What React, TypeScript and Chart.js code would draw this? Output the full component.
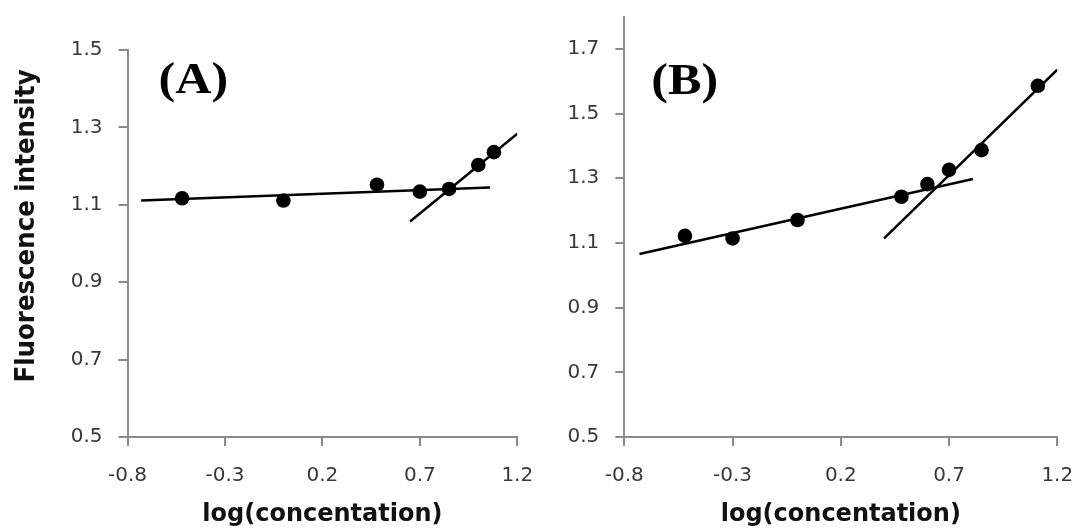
import React, { useEffect, useRef } from "react";
import { Chart, registerables } from "chart.js";

Chart.register(...registerables);

// ---- data ----
const xTicks = [-0.8, -0.3, 0.2, 0.7, 1.2];
const yTicksA = [0.5, 0.7, 0.9, 1.1, 1.3, 1.5];
const yTicksB = [0.5, 0.7, 0.9, 1.1, 1.3, 1.5, 1.7];

const logConcA = [-0.52, 0.0, 0.48, 0.7, 0.85, 1.0, 1.08];
const intensityA = [1.117, 1.111, 1.152, 1.134, 1.141, 1.203, 1.236];
const fitA1X = [-0.73, 1.06];
const fitA1Y = [1.111, 1.145];
const fitA2X = [0.65, 1.2];
const fitA2Y = [1.057, 1.284];

const logConcB = [-0.52, -0.3, 0.0, 0.48, 0.6, 0.7, 0.85, 1.11];
const intensityB = [1.122, 1.114, 1.171, 1.243, 1.282, 1.326, 1.387, 1.586];
const fitB1X = [-0.73, 0.81];
const fitB1Y = [1.066, 1.298];
const fitB2X = [0.4, 1.2];
const fitB2Y = [1.114, 1.636];

const xTitle = "log(concentation)";
const yTitle = "Fluorescence intensity";

const AXIS_GRAY = "#8a8a8a";
const TICK_TEXT = "#383838";

const pairs = (xs: number[], ys: number[]) => xs.map((x, i) => ({ x, y: ys[i] }));

const panelLabelPlugin = {
  id: "panelLabel",
  afterDraw(chart: any, _args: any, opts: any) {
    const { ctx, chartArea } = chart;
    ctx.save();
    ctx.font = 'bold 44px "Liberation Serif", serif';
    ctx.fillStyle = "#000";
    ctx.textBaseline = "alphabetic";
    ctx.textAlign = "left";
    ctx.translate(chartArea.left + opts.dx, chartArea.top + opts.dy);
    ctx.scale(1.14, 1);
    ctx.fillText(opts.text, 0, 0);
    ctx.restore();
    if (opts.yTitle) {
      ctx.save();
      ctx.font = 'bold 24.5px "DejaVu Sans", sans-serif';
      ctx.fillStyle = "#111";
      ctx.textAlign = "center";
      ctx.textBaseline = "middle";
      ctx.translate(opts.yTitleX, chartArea.top + opts.yTitleDy);
      ctx.rotate(-Math.PI / 2);
      ctx.scale(1, 1.12);
      ctx.fillText(opts.yTitle, 0, 0);
      ctx.restore();
    }
  },
};

type PanelProps = {
  left: number;
  width: number;
  xs: number[];
  ys: number[];
  fit1x: number[];
  fit1y: number[];
  fit2x: number[];
  fit2y: number[];
  yTicks: number[];
  yMax: number;
  yAxisWidth: number;
  padTop: number;
  padRight: number;
  yTitleText: string;
  label: string;
  labelDx: number;
  labelDy: number;
};

function Panel(p: PanelProps) {
  const ref = useRef<HTMLCanvasElement>(null);
  useEffect(() => {
    if (!ref.current) return;
    const lineDs = (xs: number[], ys: number[]) => ({
      data: pairs(xs, ys),
      showLine: true,
      pointRadius: 0,
      borderColor: "#000",
      borderWidth: 2.5,
      backgroundColor: "#000",
    });
    const chart = new Chart(ref.current, {
      type: "scatter",
      data: {
        datasets: [
          {
            data: pairs(p.xs, p.ys),
            showLine: false,
            pointRadius: 7.3,
            pointBackgroundColor: "#000",
            pointBorderColor: "#000",
            pointBorderWidth: 0,
          },
          lineDs(p.fit1x, p.fit1y),
          lineDs(p.fit2x, p.fit2y),
        ] as any,
      },
      options: {
        responsive: false,
        animation: false,
        layout: { padding: { left: 0, top: p.padTop, right: p.padRight, bottom: 0 } },
        plugins: {
          legend: { display: false },
          tooltip: { enabled: false },
          panelLabel: {
            text: p.label,
            dx: p.labelDx,
            dy: p.labelDy,
            yTitle: p.yTitleText,
            yTitleX: 27,
            yTitleDy: 176,
          },
        } as any,
        scales: {
          x: {
            type: "linear",
            min: -0.8,
            max: 1.2,
            afterBuildTicks: (s: any) => {
              s.ticks = xTicks.map((v) => ({ value: v }));
            },
            afterFit: (s: any) => {
              s.height = 94;
              s.paddingLeft = 0;
              s.paddingRight = 0;
            },
            grid: {
              drawOnChartArea: false,
              drawTicks: true,
              tickLength: 9,
              color: AXIS_GRAY,
              lineWidth: 2,
            },
            border: { display: true, color: AXIS_GRAY, width: 2 },
            ticks: {
              color: TICK_TEXT,
              font: { family: '"DejaVu Sans", sans-serif', size: 20 },
              padding: 18,
              maxRotation: 0,
              autoSkip: false,
              callback: (v: any) => Number(v).toFixed(1),
            },
            title: {
              display: true,
              text: xTitle,
              color: "#111",
              font: { family: '"DejaVu Sans", sans-serif', size: 24, weight: "bold", lineHeight: 1 },
              padding: { top: 0, bottom: 4 },
            },
          },
          y: {
            type: "linear",
            min: 0.5,
            max: p.yMax,
            afterBuildTicks: (s: any) => {
              s.ticks = p.yTicks.map((v) => ({ value: v }));
            },
            afterFit: (s: any) => {
              s.width = p.yAxisWidth;
              s.paddingTop = 0;
              s.paddingBottom = 0;
            },
            grid: {
              drawOnChartArea: false,
              drawTicks: true,
              tickLength: 9,
              color: AXIS_GRAY,
              lineWidth: 2,
            },
            border: { display: true, color: AXIS_GRAY, width: 2 },
            ticks: {
              color: TICK_TEXT,
              font: { family: '"DejaVu Sans", sans-serif', size: 20 },
              padding: 16,
              autoSkip: false,
              callback: (v: any) => Number(v).toFixed(1),
            },
          },
        },
      } as any,
      plugins: [panelLabelPlugin as any],
    });
    return () => chart.destroy();
  }, []);
  return (
    <canvas
      ref={ref}
      width={p.width}
      height={531}
      style={{ position: "absolute", left: p.left, top: 0, width: p.width, height: 531 }}
    />
  );
}

export default function App() {
  return (
    <div style={{ position: "fixed", left: 0, top: 0, width: 1081, height: 531, background: "#fff" }}>
      <Panel
        left={0}
        width={540}
        xs={logConcA}
        ys={intensityA}
        fit1x={fitA1X}
        fit1y={fitA1Y}
        fit2x={fitA2X}
        fit2y={fitA2Y}
        yTicks={yTicksA}
        yMax={1.5}
        yAxisWidth={127.5}
        padTop={50}
        padRight={22.7}
        yTitleText={yTitle}
        label="(A)"
        labelDx={31}
        labelDy={43}
      />
      <Panel
        left={540}
        width={541}
        xs={logConcB}
        ys={intensityB}
        fit1x={fitB1X}
        fit1y={fitB1Y}
        fit2x={fitB2X}
        fit2y={fitB2Y}
        yTicks={yTicksB}
        yMax={1.8}
        yAxisWidth={84.3}
        padTop={16.6}
        padRight={23.7}
        yTitleText=""
        label="(B)"
        labelDx={27}
        labelDy={77}
      />
    </div>
  );
}
